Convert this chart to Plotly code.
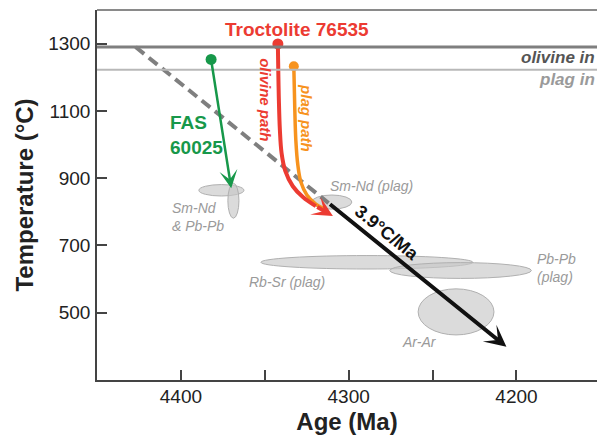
import plotly.graph_objects as go

# ---------------- data ----------------
x_range = [4450, 4152]
y_range = [300, 1400]
x_tick_vals = [4400, 4350, 4300, 4250, 4200]
x_tick_text = ["4400", "", "4300", "", "4200"]
y_tick_vals = [500, 700, 900, 1100, 1300]

olivine_in_T = 1290
plag_in_T = 1222

# cooling path (dashed part then black arrow)
cool_age = [4427, 4312, 4206]
cool_T = [1290, 826, 399]

# FAS 60025 (green)
fas_age = [4382, 4370]
fas_T = [1253, 870]

# Troctolite 76535 olivine path (red)
oliv_age = [4342.2, 4341.6, 4341.0, 4340.0, 4337.8, 4333.3, 4327.3, 4319.6]
oliv_T = [1299, 1132, 1043, 975, 922, 876, 844, 817]
oliv_tip = [4309.4, 787.5]

# Troctolite 76535 plag path (orange)
plag_age = [4332.7, 4332.1, 4331.5, 4330.3, 4328.5, 4324.9, 4319.6, 4314.2]
plag_T = [1233, 1102.6, 1013.4, 939, 888.6, 850, 823, 808]

# age ellipses: [age_old, age_young, T_low, T_high]
ell_names = ["SmNd_h", "SmNd_v", "SmNd_plag", "RbSr_plag", "PbPb_plag", "ArAr"]
ell_age_old = [4389.3, 4372.0, 4322.0, 4352.3, 4275.5, 4258.6]
ell_age_young = [4362.4, 4365.4, 4298.1, 4226.0, 4191.1, 4213.4]
ell_T_low = [847, 781, 808, 630, 602, 434]
ell_T_high = [881, 885, 850, 670, 649, 571]

# gray method labels: text, age, T, xanchor
lab_text = ["Sm-Nd<br>& Pb-Pb", "Sm-Nd (plag)", "Rb-Sr (plag)", "Pb-Pb<br>(plag)", "Ar-Ar"]
lab_age = [4406.5, 4312.4, 4336.8, 4189.0, 4257.6]
lab_T = [784.5, 876.7, 590, 634.4, 413]
lab_anchor = ["left", "left", "center", "left", "center"]

FONT = "Liberation Sans, Arial, sans-serif"
RED = "#ec3b32"
ORANGE = "#f7931e"
GREEN = "#17984a"

fig = go.Figure()

# dashed gray part of the cooling path
fig.add_trace(go.Scatter(x=cool_age[:2], y=cool_T[:2], mode="lines",
                         line=dict(color="#7f7f7f", width=4, dash="11px,6px"),
                         hoverinfo="skip", showlegend=False))
# plag path
fig.add_trace(go.Scatter(x=plag_age, y=plag_T, mode="lines", line_shape="spline",
                         line=dict(color=ORANGE, width=3.5), hoverinfo="skip", showlegend=False))
fig.add_trace(go.Scatter(x=plag_age[:1], y=plag_T[:1], mode="markers",
                         marker=dict(color=ORANGE, size=10), hoverinfo="skip", showlegend=False))
# olivine path
fig.add_trace(go.Scatter(x=oliv_age, y=oliv_T, mode="lines", line_shape="spline",
                         line=dict(color=RED, width=4), hoverinfo="skip", showlegend=False))
fig.add_trace(go.Scatter(x=oliv_age[:1], y=oliv_T[:1], mode="markers",
                         marker=dict(color=RED, size=11), hoverinfo="skip", showlegend=False))
# FAS start dot
fig.add_trace(go.Scatter(x=fas_age[:1], y=fas_T[:1], mode="markers",
                         marker=dict(color=GREEN, size=11), hoverinfo="skip", showlegend=False))

shapes = []
for i in range(len(ell_names)):
    shapes.append(dict(type="circle", xref="x", yref="y", layer="below",
                       x0=ell_age_old[i], x1=ell_age_young[i],
                       y0=ell_T_low[i], y1=ell_T_high[i],
                       fillcolor="rgba(200,200,200,0.65)",
                       line=dict(color="#b0b0b0", width=1)))
shapes.append(dict(type="line", xref="paper", yref="y", x0=0, x1=1,
                   y0=olivine_in_T, y1=olivine_in_T, line=dict(color="#7f7f7f", width=3)))
shapes.append(dict(type="line", xref="paper", yref="y", x0=0, x1=1,
                   y0=plag_in_T, y1=plag_in_T, line=dict(color="#b8b8b8", width=2)))
shapes.append(dict(type="line", xref="paper", yref="paper", x0=0, x1=1,
                   y0=1, y1=1, line=dict(color="#8a8a8a", width=2)))

ann = []
# arrows
ann.append(dict(x=cool_age[2], y=cool_T[2], ax=cool_age[1], ay=cool_T[1],
                xref="x", yref="y", axref="x", ayref="y", text="", showarrow=True,
                arrowhead=3, arrowsize=0.9, arrowwidth=4, arrowcolor="#111111"))
ann.append(dict(x=fas_age[1], y=fas_T[1], ax=fas_age[0], ay=fas_T[0],
                xref="x", yref="y", axref="x", ayref="y", text="", showarrow=True,
                arrowhead=3, arrowsize=1.2, arrowwidth=2.5, arrowcolor=GREEN))
ann.append(dict(x=oliv_tip[0], y=oliv_tip[1], ax=oliv_age[-1], ay=oliv_T[-1],
                xref="x", yref="y", axref="x", ayref="y", text="", showarrow=True,
                arrowhead=3, arrowsize=0.85, arrowwidth=4, arrowcolor=RED))
# text labels
ann.append(dict(x=4331, y=1343, xref="x", yref="y", showarrow=False,
                text="<b>Troctolite 76535</b>", font=dict(family=FONT, size=19, color=RED)))
ann.append(dict(x=4407.7, y=1028, xref="x", yref="y", showarrow=False, xanchor="left",
                align="left", text="<b>FAS<br>60025</b>",
                font=dict(family=FONT, size=19, color=GREEN)))
ann.append(dict(x=4349.3, y=1132, xref="x", yref="y", showarrow=False, textangle=90,
                text="<b><i>olivine path</i></b>", font=dict(family=FONT, size=15, color=RED)))
ann.append(dict(x=4325.5, y=1079, xref="x", yref="y", showarrow=False, textangle=90,
                text="<b><i>plag path</i></b>", font=dict(family=FONT, size=15, color=ORANGE)))
ann.append(dict(x=4277, y=738, xref="x", yref="y", showarrow=False, textangle=39,
                text="<b>3.9°C/Ma</b>", font=dict(family=FONT, size=18, color="#111111")))
ann.append(dict(x=1, y=1260, xref="paper", yref="y", showarrow=False, xanchor="right",
                text="<b><i>olivine in</i></b>", font=dict(family=FONT, size=17, color="#555555")))
ann.append(dict(x=1, y=1192, xref="paper", yref="y", showarrow=False, xanchor="right",
                text="<b><i>plag in</i></b>", font=dict(family=FONT, size=17, color="#9a9a9a")))
for t, a, T, xa in zip(lab_text, lab_age, lab_T, lab_anchor):
    ann.append(dict(x=a, y=T, xref="x", yref="y", showarrow=False, xanchor=xa, align="left",
                    text="<i>" + t + "</i>", font=dict(family=FONT, size=14, color="#9a9a9a")))

axis_common = dict(showline=True, linecolor="#444444", linewidth=1.5, ticks="inside",
                   ticklen=10, tickwidth=1.5, tickcolor="#444444", showgrid=False,
                   zeroline=False, tickfont=dict(family=FONT, size=19, color="#222222"))

fig.update_layout(
    width=597, height=438,
    margin=dict(l=97, r=0, t=10, b=58),
    paper_bgcolor="white", plot_bgcolor="white",
    xaxis=dict(range=x_range, tickvals=x_tick_vals, ticktext=x_tick_text,
               title=dict(text="<b>Age (Ma)</b>", font=dict(family=FONT, size=24, color="#222222"),
                          standoff=8), ticklabelstandoff=-2, **axis_common),
    yaxis=dict(range=y_range, tickvals=y_tick_vals,
               title=dict(text="<b>Temperature (°C)</b>", font=dict(family=FONT, size=24, color="#222222"),
                          standoff=8), ticklabelstandoff=1, **axis_common),
    shapes=shapes, annotations=ann, showlegend=False,
)

fig.write_html("out.html")
